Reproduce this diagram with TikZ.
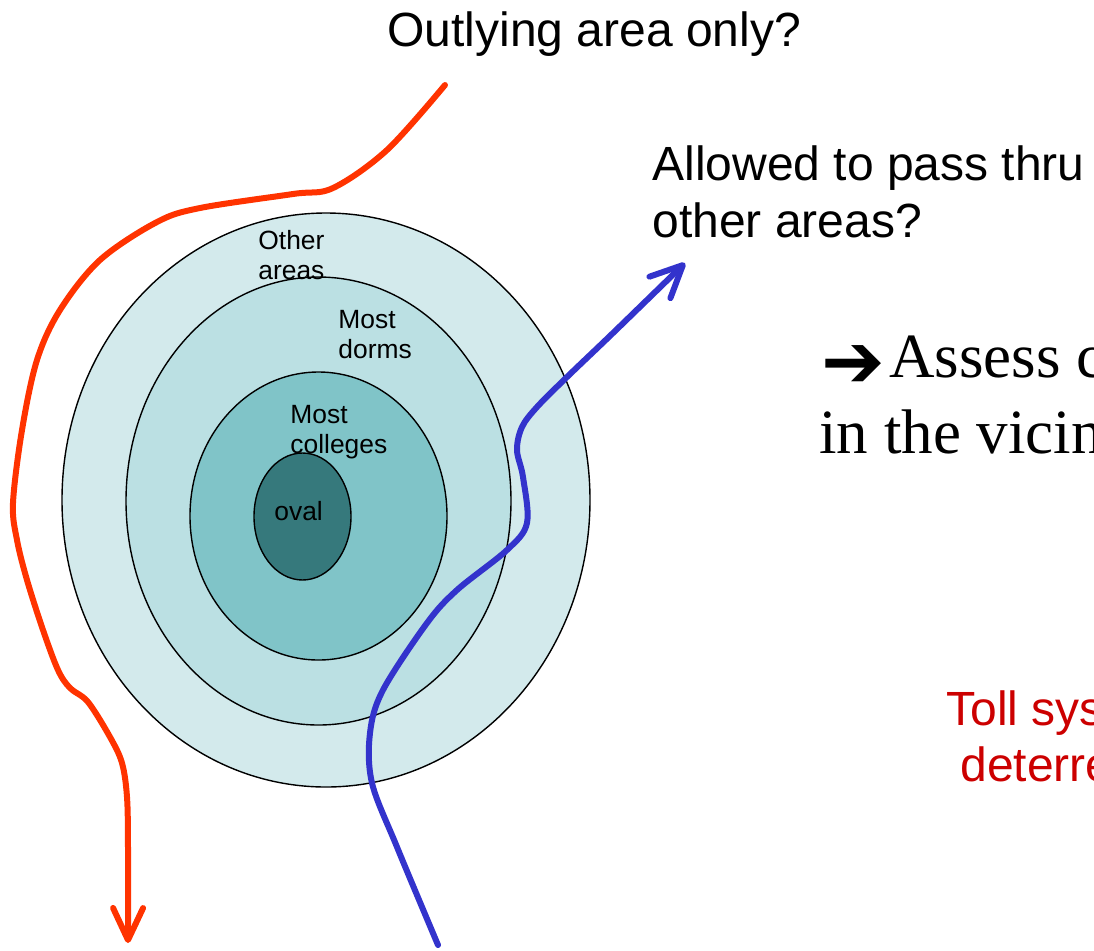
\documentclass[tikz,border=0pt]{standalone}
\usepackage{fontspec}
\setmainfont{Liberation Sans}
\newfontfamily\timesfont{Liberation Serif}
\newfontfamily\symfont{DejaVu Sans}
\usetikzlibrary{arrows.meta}
\definecolor{ringout}{HTML}{D3EAEC}
\definecolor{ringdorm}{HTML}{BBE0E3}
\definecolor{ringcoll}{HTML}{80C4C8}
\definecolor{ringoval}{HTML}{36797C}
\definecolor{outred}{HTML}{FF3300}
\definecolor{passblue}{HTML}{3333CC}
\definecolor{tollred}{HTML}{CC0000}
\begin{document}
\begin{tikzpicture}[x=0.5pt,y=-0.5pt,
    zone/.style={draw=black,line width=0.7pt},
    lbl/.style={inner sep=0pt,align=left,anchor=north west,font=\fontsize{13.2}{15}\selectfont},
    ask/.style={inner sep=0pt,align=left,anchor=north west,font=\fontsize{24}{28.5}\selectfont},
    route/.style={line width=3pt,line cap=round,line join=round,
        -{Straight Barb[length=16pt,width=15pt,line cap=round,line join=round]}}]
    \useasboundingbox (0,0) rectangle (1094,950);
    \clip (0,0) rectangle (1094,950);
    % campus zones
    \filldraw[zone,fill=ringout](326,500) ellipse [x radius=132pt,y radius=143.5pt];
    \filldraw[zone,fill=ringdorm](318.5,501) ellipse [x radius=96.25pt,y radius=112pt];
    \filldraw[zone,fill=ringcoll](318.5,516) ellipse [x radius=64.25pt,y radius=72pt];
    \filldraw[zone,fill=ringoval](302.5,516.5) ellipse [x radius=24.25pt,y radius=31.75pt];
    \node[lbl](other)at(258,230){Other\\areas};
    \node[lbl](dorms)at(338,310){Most\\dorms};
    \node[lbl](colleges)at(290,405){Most\\colleges};
    \node[inner sep=0pt,anchor=base west,font=\fontsize{13.2}{15}\selectfont](oval)at(274,520){oval};
    % questions
    \node[inner sep=0pt,anchor=base west,font=\fontsize{24}{28.5}\selectfont](outq)at(387,46){Outlying area only?};
    \node[ask](passq)at(652,145){Allowed to pass thru\\other areas?};
    \node[inner sep=0pt,align=left,anchor=north west,font=\timesfont\fontsize{31.5}{38}\selectfont](assess)at(819,335)
        {\hspace*{1pt}\smash{\raisebox{-5pt}{\symfont\fontsize{38}{38}\selectfont ➔}}\hspace*{2pt}Assess c\\in the vicin};
    \node[ask,text=tollred,font=\fontsize{24}{28}\selectfont](toll)at(946,690){Toll sys\\\hspace*{7pt}deterre};
    % routes
    \draw[route,outred] plot[smooth,tension=0.55] coordinates {(445,85) (387,150) (333,188) (293,194) (200,208)
        (157,222) (100,260) (60,310) (37,360) (22,430) (13,503) (17,540) (27,580) (43,630) (58,670)
        (70,688) (88,702) (110,737) (122,763) (127,797) (128,847) (128,943)};
    \draw[route,passblue] plot[smooth,tension=0.55] coordinates {(438,945) (397,847) (372,783) (370,733)
        (383,690) (427,623) (457,590) (507,550) (527,523) (523,477) (517,450) (522,427) (537,407)
        (567,377) (613,333) (685,263)};
\end{tikzpicture}
\end{document}
